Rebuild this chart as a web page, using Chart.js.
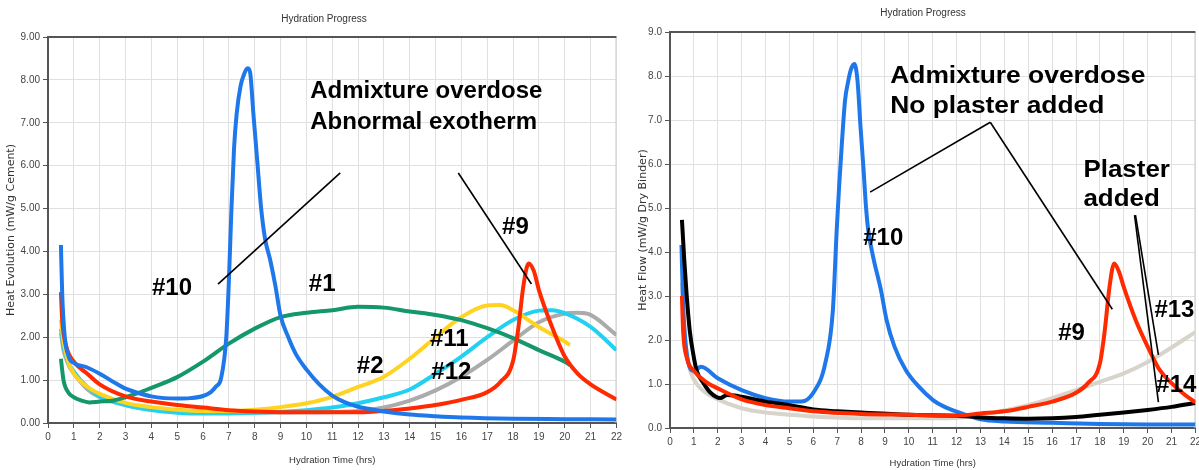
<!DOCTYPE html>
<html>
<head>
<meta charset="utf-8">
<script src="https://cdn.jsdelivr.net/npm/chart.js@4.4.1/dist/chart.umd.min.js"></script>
<style>
  html, body { margin: 0; padding: 0; background: #fff; overflow: hidden; width: 1199px; height: 470px; }
  canvas { position: absolute; top: 0; }
  #leftChart { left: 0; }
  #rightChart { left: 620px; }
</style>
</head>
<body>
<canvas id="leftChart" width="625" height="470"></canvas>
<canvas id="rightChart" width="584" height="470"></canvas>
<script>
// ---- left panel: heat evolution (mW/g cement) ----
const hrs10 = [0.5, 0.55, 0.65, 0.8, 1, 1.5, 2, 2.5, 3, 3.5, 4, 4.5, 5, 5.5, 6, 6.3, 6.5, 6.7, 6.9, 7.0, 7.1, 7.2, 7.3, 7.45, 7.6, 7.72, 7.82, 7.95, 8.1, 8.25, 8.4, 8.6, 8.8, 9.0, 9.3, 9.6, 10, 10.5, 11, 11.5, 12, 12.5, 13, 14, 15, 16, 18, 20, 22];
const heat10 = [4.15, 3.0, 2.0, 1.55, 1.4, 1.3, 1.15, 0.97, 0.8, 0.7, 0.62, 0.58, 0.57, 0.58, 0.63, 0.72, 0.85, 1.05, 2.0, 3.3, 5.0, 6.4, 7.2, 7.85, 8.15, 8.27, 8.18, 7.2, 6.1, 5.0, 4.3, 3.8, 3.2, 2.5, 2.0, 1.6, 1.25, 0.9, 0.64, 0.48, 0.38, 0.32, 0.27, 0.2, 0.16, 0.13, 0.1, 0.09, 0.08];

const hrs1 = [0.5, 0.6, 0.8, 1, 1.3, 1.6, 2, 2.5, 3, 3.5, 4, 5, 6, 7, 8, 9, 10, 11, 12, 13, 14, 15, 16, 17, 18, 19, 20, 20.2];
const heat1 = [1.5, 1.0, 0.7, 0.6, 0.52, 0.48, 0.5, 0.52, 0.6, 0.7, 0.82, 1.07, 1.43, 1.85, 2.2, 2.47, 2.57, 2.63, 2.71, 2.69, 2.6, 2.52, 2.4, 2.21, 1.98, 1.7, 1.43, 1.35];

const hrs9 = [0.5, 0.55, 0.7, 1, 1.5, 2, 3, 4, 5, 6, 7, 8, 10, 12, 13, 14, 15, 16, 17, 17.5, 18, 18.2, 18.4, 18.6, 18.8, 19, 19.5, 20, 20.5, 21, 22];
const heat9 = [3.05, 2.4, 1.8, 1.43, 1.16, 0.9, 0.62, 0.5, 0.42, 0.36, 0.3, 0.27, 0.25, 0.25, 0.28, 0.34, 0.42, 0.54, 0.72, 0.95, 1.45, 2.2, 3.2, 3.72, 3.55, 3.1, 2.25, 1.55, 1.15, 0.9, 0.55];

const hrs2 = [0.5, 0.6, 0.8, 1, 1.5, 2, 3, 4, 5, 6, 7, 8, 9, 10, 11, 12, 13, 14, 15, 16, 17, 17.5, 18, 19, 20, 20.2];
const heat2 = [2.4, 1.9, 1.4, 1.15, 0.85, 0.68, 0.47, 0.37, 0.31, 0.28, 0.28, 0.31, 0.37, 0.46, 0.61, 0.84, 1.08, 1.5, 2.0, 2.47, 2.74, 2.75, 2.63, 2.24, 1.9, 1.82];

const hrs11 = [0.5, 0.6, 0.8, 1, 1.5, 2, 3, 4, 5, 6, 8, 10, 11, 12, 13, 14, 15, 16, 17, 18, 19, 19.5, 20, 21, 22];
const heat11 = [2.2, 1.8, 1.4, 1.2, 0.85, 0.62, 0.42, 0.3, 0.24, 0.22, 0.24, 0.3, 0.36, 0.46, 0.6, 0.78, 1.15, 1.55, 2.0, 2.4, 2.62, 2.63, 2.56, 2.24, 1.7];

const hrs12 = [0.5, 0.6, 0.8, 1, 1.5, 2, 3, 4, 5, 6, 8, 10, 12, 13, 14, 15, 16, 17, 18, 19, 20, 20.5, 21, 22];
const heat12 = [2.1, 1.7, 1.35, 1.15, 0.8, 0.6, 0.42, 0.32, 0.27, 0.25, 0.24, 0.25, 0.28, 0.36, 0.52, 0.76, 1.08, 1.47, 1.92, 2.35, 2.55, 2.57, 2.52, 2.05];

// ---- right panel: heat flow (mW/g dry binder) ----
const flowHrs10 = [0.48, 0.55, 0.7, 1, 1.3, 2, 3, 4, 5, 5.5, 6, 6.5, 6.82, 6.98, 7.08, 7.2, 7.33, 7.45, 7.57, 7.72, 7.85, 7.97, 8.1, 8.21, 8.3, 8.5, 8.83, 9.07, 9.4, 9.87, 10.4, 11, 11.5, 12, 12.4, 13, 14, 16, 18, 20, 22];
const flow10 = [4.16, 2.8, 1.7, 1.3, 1.39, 1.13, 0.86, 0.68, 0.6, 0.6, 0.8, 1.47, 2.68, 4.5, 5.48, 6.5, 7.45, 7.85, 8.14, 8.27, 7.9, 6.9, 5.9, 5.0, 4.5, 3.9, 3.14, 2.45, 1.85, 1.32, 0.95, 0.64, 0.48, 0.37, 0.3, 0.2, 0.15, 0.12, 0.09, 0.08, 0.08];

const flowHrs9 = [0.5, 0.55, 0.7, 1, 1.5, 2, 3, 4, 5, 6, 8, 10, 12, 13, 14, 15, 16, 17, 17.5, 18, 18.2, 18.4, 18.6, 18.8, 19, 19.5, 20, 20.5, 21, 21.5, 22];
const flow9 = [3.0, 2.2, 1.6, 1.3, 1.05, 0.9, 0.65, 0.52, 0.45, 0.38, 0.32, 0.3, 0.28, 0.33, 0.38, 0.48, 0.6, 0.8, 1.02, 1.47, 2.2, 3.2, 3.74, 3.55, 3.2, 2.45, 1.85, 1.32, 1.02, 0.78, 0.58];

const flowHrs13 = [0.5, 0.6, 0.8, 1, 1.5, 2, 3, 4, 5, 6, 8, 10, 12, 13, 14, 15, 16, 17, 18, 19, 20, 21, 22];
const flow13 = [3.3, 2.2, 1.4, 1.1, 0.8, 0.65, 0.45, 0.35, 0.3, 0.26, 0.22, 0.22, 0.23, 0.3, 0.4, 0.52, 0.68, 0.86, 1.05, 1.24, 1.5, 1.83, 2.18];

const flowHrs14 = [0.5, 0.6, 0.7, 0.83, 1, 1.12, 1.4, 1.7, 2.1, 2.4, 2.7, 3, 4, 5, 6, 7, 8, 10, 12, 13, 14, 15, 16, 17, 18, 19, 20, 21, 22];
const flow14 = [4.73, 3.8, 3.0, 2.2, 1.6, 1.3, 1.02, 0.8, 0.68, 0.75, 0.74, 0.71, 0.6, 0.52, 0.42, 0.38, 0.35, 0.3, 0.28, 0.24, 0.22, 0.21, 0.22, 0.25, 0.3, 0.35, 0.41, 0.48, 0.57];

// annotations, in data units
const leftNotes = [
  ['Admixture overdose', 10.15, 7.74, 'left'],
  ['Abnormal exotherm', 10.15, 7.02, 'left'],
  ['#10', 4.8, 3.15, 'center'],
  ['#1', 10.61, 3.24, 'center'],
  ['#2', 12.47, 1.31, 'center'],
  ['#11', 15.53, 1.94, 'center'],
  ['#12', 15.61, 1.19, 'center'],
  ['#9', 18.09, 4.55, 'center']
];
const leftPointers = [[11.31, 5.83, 6.58, 3.24], [15.88, 5.83, 18.71, 3.24]];

const rightNotes = [
  ['Admixture overdose', 9.22, 8.0, 'left', 1.1],
  ['No plaster added', 9.22, 7.32, 'left', 1.1],
  ['Plaster', 17.31, 5.86, 'left', 1.08],
  ['added', 17.31, 5.2, 'left', 1.08],
  ['#10', 8.93, 4.32, 'center'],
  ['#9', 16.81, 2.16, 'center'],
  ['#13', 21.12, 2.68, 'center'],
  ['#14', 21.2, 0.98, 'center']
];
const rightPointers = [[13.41, 6.95, 8.38, 5.36], [13.41, 6.95, 18.52, 2.7], [19.49, 4.84, 20.45, 1.66], [19.45, 4.84, 20.45, 0.59]];

const tickFont = { family: '"Liberation Sans", Arial, sans-serif', size: 10 };

function series(xs, ys, color) {
  return {
    data: xs.map((x, i) => ({ x: x, y: ys[i] })),
    borderColor: color,
    backgroundColor: color,
    borderWidth: 4,
    pointRadius: 0,
    fill: false,
    cubicInterpolationMode: 'monotone'
  };
}

// frame, title and arrows/labels drawn on top of the chart
const notesPlugin = {
  id: 'notes',
  beforeDatasetsDraw(chart, args, opts) {
    const ctx = chart.ctx;
    const a = chart.chartArea;
    ctx.save();
    ctx.strokeStyle = '#cfcfcf';
    ctx.lineWidth = 1;
    ctx.beginPath();
    ctx.moveTo(a.right - 0.5, a.top);
    ctx.lineTo(a.right - 0.5, a.bottom);
    ctx.stroke();
    ctx.strokeStyle = '#555';
    ctx.lineWidth = 2;
    ctx.beginPath();
    ctx.moveTo(a.left, a.top);
    ctx.lineTo(a.right, a.top);
    ctx.stroke();
    ctx.fillStyle = '#333';
    ctx.font = '10px "Liberation Sans", Arial, sans-serif';
    ctx.textAlign = 'center';
    ctx.textBaseline = 'middle';
    ctx.fillText(opts.title, opts.titleX, opts.titleY);
    ctx.restore();
  },
  afterDatasetsDraw(chart, args, opts) {
    const ctx = chart.ctx;
    const xs = chart.scales.x, ys = chart.scales.y;
    ctx.save();
    ctx.strokeStyle = '#000';
    ctx.lineWidth = 1.6;
    opts.pointers.forEach(p => {
      ctx.beginPath();
      ctx.moveTo(xs.getPixelForValue(p[0]), ys.getPixelForValue(p[1]));
      ctx.lineTo(xs.getPixelForValue(p[2]), ys.getPixelForValue(p[3]));
      ctx.stroke();
    });
    ctx.fillStyle = '#000';
    ctx.font = 'bold 24px "Liberation Sans", Arial, sans-serif';
    ctx.textBaseline = 'middle';
    opts.notes.forEach(n => {
      ctx.save();
      ctx.translate(xs.getPixelForValue(n[1]), ys.getPixelForValue(n[2]));
      ctx.scale(n[4] || 1, 1);
      ctx.textAlign = n[3];
      ctx.fillText(n[0], 0, 0);
      ctx.restore();
    });
    ctx.restore();
  }
};

function makeChart(id, cfg) {
  return new Chart(document.getElementById(id), {
    type: 'line',
    data: { datasets: cfg.datasets },
    options: {
      responsive: false,
      animation: false,
      layout: { padding: { top: cfg.top, left: cfg.padLeft, right: 6, bottom: 0 } },
      plugins: {
        legend: { display: false },
        tooltip: { enabled: false },
        title: { display: false },
        notes: { title: 'Hydration Progress', titleX: cfg.titleX, titleY: cfg.titleY, notes: cfg.notes, pointers: cfg.pointers }
      },
      scales: {
        x: {
          type: 'linear',
          min: 0,
          max: 22,
          afterFit: s => { s.height = cfg.xHeight; },
          ticks: { stepSize: 1, font: tickFont, color: '#444', padding: 3, maxRotation: 0, autoSkip: false },
          grid: { color: '#e0e0e0', lineWidth: 1, tickLength: 5, tickColor: '#555' },
          border: { color: '#555', width: 2 },
          title: { display: true, text: 'Hydration Time (hrs)', font: { family: '"Liberation Sans", Arial, sans-serif', size: 9.5 }, color: '#333', padding: { top: 2, bottom: cfg.xTitlePad } }
        },
        y: {
          min: 0,
          max: 9,
          afterFit: s => { s.width = cfg.yWidth; },
          ticks: { stepSize: 1, font: tickFont, color: '#444', padding: 3, callback: v => v.toFixed(cfg.digits) },
          grid: { color: '#e0e0e0', lineWidth: 1, tickLength: 5, tickColor: '#555' },
          border: { color: '#555', width: 2 },
          title: { display: true, text: cfg.yTitle, font: { family: '"DejaVu Sans", Verdana, sans-serif', size: 11 }, color: '#333', padding: { top: cfg.yTitlePad, bottom: 2 } }
        }
      }
    },
    plugins: [notesPlugin]
  });
}

makeChart('leftChart', {
  datasets: [
    series(hrs10, heat10, '#1f78ea'),
    series(hrs9, heat9, '#ff2a00'),
    series(hrs1, heat1, '#13976b'),
    series(hrs2, heat2, '#ffd320'),
    series(hrs11, heat11, '#22d0f2'),
    series(hrs12, heat12, '#ababab')
  ],
  top: 37, padLeft: 0, yWidth: 48, xHeight: 47, xTitlePad: 4, yTitlePad: 5, digits: 2,
  titleX: 324, titleY: 19,
  yTitle: 'Heat Evolution (mW/g Cement)',
  notes: leftNotes, pointers: leftPointers
});

makeChart('rightChart', {
  datasets: [
    series(flowHrs9, flow9, '#ff2a00'),
    series(flowHrs14, flow14, '#000000'),
    series(flowHrs10, flow10, '#1f78ea'),
    series(flowHrs13, flow13, '#d8d4cc')
  ],
  top: 32, padLeft: 14, yWidth: 36, xHeight: 42, xTitlePad: 1, yTitlePad: 3, digits: 1,
  titleX: 303, titleY: 13,
  yTitle: 'Heat Flow (mW/g Dry Binder)',
  notes: rightNotes, pointers: rightPointers
});
</script>
</body>
</html>
